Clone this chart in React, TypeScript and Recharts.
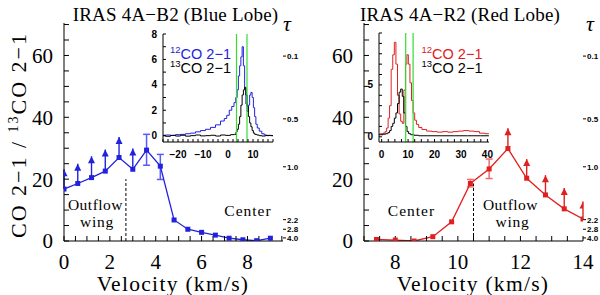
import React from 'react';
import { ComposedChart, LineChart, Line, Scatter, XAxis, YAxis, ErrorBar, ReferenceLine } from 'recharts';

// IRAS 4A-B2 (blue lobe): 12CO/13CO 2-1 ratio per velocity channel
const blueVel = [0, 0.6, 1.2, 1.8, 2.4, 3.0, 3.6, 4.2, 4.8, 5.4, 6.0, 6.6, 7.2, 7.8, 8.4, 9.0];
const blueRatio = [16.8, 18.6, 20.5, 22.6, 27.0, 23.2, 29.4, 24.2, 6.8, 3.8, 2.8, 1.9, 0.9, 0.4, 0.1, 0.9];
const blueLimVel = [0, 0.6, 1.2, 1.8, 2.4, 3.0]; // lower limits (arrows)
const blueLimTip = [23.2, 25.0, 27.4, 29.6, 33.6, 29.9];
const blueErrVel = [3.6, 4.2];
const blueErrLow = [24.5, 19.9];
const blueErrHigh = [34.5, 28.0];
const blueSplit = [2.7, 20]; // dashed line: velocity, top

// IRAS 4A-R2 (red lobe)
const redVel = [7.4, 8.0, 8.6, 9.2, 9.8, 10.4, 11.0, 11.6, 12.2, 12.8, 13.4, 14.0];
const redRatio = [0.5, 0.3, 0.0, 1.4, 6.2, 18.6, 23.3, 29.9, 20.3, 14.9, 10.4, 7.1];
const redLimVel = [11.6, 12.2, 12.8, 13.4, 14.0];
const redLimTip = [36.5, 26.5, 21.3, 17.1, 12.8];
const redErrVel = [10.4, 11.0];
const redErrLow = [17.5, 20.2];
const redErrHigh = [19.9, 26.5];
const redSplit = [10.5, 18.6];

// optical depth scale on the right axis (ratio position -> tau)
const tauPos = [59.8, 39.5, 24, 6.9, 3.8, 1.0];
const tauLabels = ['0.1', '0.5', '1.0', '2.2', '2.8', '4.0'];

// inset spectra, blue lobe (v in km/s, T in K)
const b12Vel = [-26, -24, -22, -20, -18, -16, -14, -12, -10, -8, -6, -4, -2, -1, 0, 1, 2, 2.8, 3.4, 3.9, 4.4, 4.9, 5.4, 5.9, 6.4, 6.9, 7.4, 7.9, 8.4, 8.9, 9.4, 9.9, 10.4, 10.9, 11.4, 12, 13, 14, 15, 16, 17, 18];
const b12T = [0.03, 0.05, 0.02, 0.08, 0.1, 0.15, 0.2, 0.3, 0.4, 0.5, 0.65, 0.85, 1.15, 1.35, 1.6, 2.0, 2.3, 2.6, 3.0, 3.6, 4.7, 5.5, 6.2, 7.0, 5.5, 3.7, 2.5, 1.9, 2.4, 3.2, 3.4, 3.0, 2.2, 1.5, 0.9, 0.6, 0.35, 0.15, 0.05, 0.0, 0.02, 0.0];
const b13Vel = [-26, -24, -22, -20, -18, -16, -14, -12, -10, -8, -6, -4, -2, 0, 2, 3, 3.4, 3.9, 4.4, 4.9, 5.4, 5.9, 6.4, 6.9, 7.4, 7.9, 8.4, 8.9, 9.4, 9.9, 10.4, 11, 12, 13, 14, 16, 18];
const b13T = [0.0, -0.05, 0.02, -0.03, 0.03, -0.04, 0.0, 0.05, -0.02, 0.0, 0.03, -0.03, 0.05, 0.02, 0.08, 0.1, 0.3, 0.5, 0.9, 1.5, 2.4, 3.2, 3.6, 3.8, 3.2, 2.3, 1.5, 1.0, 0.7, 0.4, 0.2, 0.1, 0.05, 0.0, -0.03, 0.02, 0.0];
const blueGreen = [3.4, 7.6];

// inset spectra, red lobe
const r12Vel = [-1, 0, 1, 1.6, 2.2, 2.7, 3.3, 3.9, 4.5, 5.1, 5.7, 6.3, 6.9, 7.5, 8.1, 8.7, 9.3, 9.8, 10.4, 11.0, 11.6, 12.2, 12.8, 13.5, 14.5, 16, 18, 20, 22, 24, 26, 28, 30, 32, 34, 36, 38, 40, 41];
const r12T = [0.25, 0.3, 0.35, 0.5, 0.85, 1.8, 3.0, 6.5, 7.9, 9.1, 7.0, 4.0, 2.2, 1.5, 1.3, 4.5, 7.0, 7.9, 7.0, 5.2, 3.5, 2.3, 1.6, 1.2, 0.9, 0.7, 0.55, 0.5, 0.45, 0.5, 0.45, 0.5, 0.55, 0.6, 0.55, 0.5, 0.35, 0.3, 0.3];
const r13Vel = [-1, 0, 1, 2, 2.7, 3.3, 3.9, 4.5, 5.1, 5.7, 6.3, 6.9, 7.5, 8.1, 8.7, 9.3, 9.9, 10.5, 11.5, 13, 15, 20, 25, 30, 35, 40, 41];
const r13T = [0.2, 0.2, 0.25, 0.3, 0.4, 0.6, 1.0, 1.3, 1.8, 2.3, 3.2, 4.3, 4.6, 3.9, 2.3, 1.0, 0.5, 0.3, 0.2, 0.15, 0.1, 0.1, 0.1, 0.1, 0.1, 0.1, 0.1];
const redGreen = [9.1, 11.9];

// only Liberation Serif resolves to a real serif face here
const serif = 'Liberation Serif';
const sans = 'Liberation Sans';
const BLUE = '#2222dd';
const BLUE_ERR = '#5a5aff';
const RED = '#e02020';
const RED_ERR = '#f06a6a';
const GREEN = '#33dd33';

const ratioTicks = [0, 5, 10, 15, 20, 25, 30, 35, 40, 45, 50, 55, 60, 65, 70];
const blueXTicks = [0, 0.5, 1, 1.5, 2, 2.5, 3, 3.5, 4, 4.5, 5, 5.5, 6, 6.5, 7, 7.5, 8, 8.5, 9, 9.5];
const redXTicks = [7, 7.5, 8, 8.5, 9, 9.5, 10, 10.5, 11, 11.5, 12, 12.5, 13, 13.5, 14];

const zip = (xs: number[], ys: number[]) => xs.map((v, i) => ({ v, t: ys[i] }));

const squareDot = (color: string) => (p: any) =>
  <rect key={`sq${p.index}`} x={p.cx - 2.5} y={p.cy - 2.5} width={5} height={5} fill={color} />;
const arrowHead = (color: string) => (p: any) =>
  <polygon points={`${p.cx},${p.cy} ${p.cx - 3.5},${p.cy + 7} ${p.cx + 3.5},${p.cy + 7}`} fill={color} />;
const nothing = () => <g />;

// tick label renderer with an explicit font
const mkTick = (fmt: (v: number) => string, family: string, size: number, dy: string, weight = 'normal') => (p: any) => (
  <text x={p.x} y={p.y} dy={dy} textAnchor={p.textAnchor} fill="#000"
    style={{ fontFamily: family, fontSize: size, fontWeight: weight }}>{fmt(p.payload.value)}</text>
);
const blank = () => '';

function RatioPanel({ vel, ratio, limVel, limTip, errVel, errLow, errHigh, split, color, errColor, xDomain, xTicks }: any) {
  const line = vel.map((v: number, i: number) => ({ v, r: ratio[i] }));
  const lims = limVel.map((v: number, i: number) => {
    const r = ratio[vel.indexOf(v)];
    return { v, r, lim: [0, limTip[i] - r], tip: limTip[i] };
  });
  const errs = errVel.map((v: number, i: number) => {
    const r = ratio[vel.indexOf(v)];
    return { v, r, e: [r - errLow[i], errHigh[i] - r] };
  });
  const fx = (v: number) => (Number.isInteger(v) && v % 2 === 0 ? String(v) : '');
  const fy = (v: number) => (v % 20 === 0 ? String(v) : '');
  const ftau = (v: number) => tauLabels[tauPos.indexOf(v)] ?? '';
  return (
    <ComposedChart width={300} height={295} margin={{ top: 23, right: 0, bottom: 0, left: 0 }}>
      <XAxis dataKey="v" type="number" domain={xDomain} allowDataOverflow ticks={xTicks} interval={0}
        height={54} tickSize={-5} tickMargin={18} stroke="#000" tick={mkTick(fx, serif, 21, '0.71em')} />
      <XAxis xAxisId="top" orientation="top" dataKey="v" type="number" domain={xDomain} allowDataOverflow
        ticks={xTicks} interval={0} tick={mkTick(blank, serif, 10, '0')} height={0} tickSize={-5} stroke="#000" />
      <YAxis type="number" domain={[0, 70.5]} allowDataOverflow ticks={ratioTicks} interval={0}
        width={64} tickSize={-5} tickMargin={16} stroke="#000" tick={mkTick(fy, serif, 21, '0.355em')} />
      <YAxis yAxisId="r2" orientation="right" type="number" domain={[0, 70.5]} allowDataOverflow
        ticks={ratioTicks} interval={0} tick={mkTick(blank, serif, 10, '0')} width={0} tickSize={-5} stroke="#000" />
      <YAxis yAxisId="tau" orientation="right" type="number" domain={[0, 70.5]} allowDataOverflow
        ticks={tauPos} interval={0} width={17} tickSize={3} tickMargin={1} axisLine={false} stroke="#000"
        tick={mkTick(ftau, sans, 8, '0.355em', 'bold')} />
      <ReferenceLine segment={[{ x: split[0], y: 0 }, { x: split[0], y: split[1] }]} stroke="#000" strokeDasharray="3 2" />
      <Scatter data={lims} dataKey="r" shape={nothing} isAnimationActive={false}>
        <ErrorBar dataKey="lim" direction="y" width={0} stroke={color} strokeWidth={1.4} />
      </Scatter>
      <Scatter data={lims} dataKey="tip" shape={arrowHead(color)} isAnimationActive={false} />
      <Scatter data={errs} dataKey="r" shape={nothing} isAnimationActive={false}>
        <ErrorBar dataKey="e" direction="y" width={3.5} stroke={errColor} strokeWidth={1.5} />
      </Scatter>
      <Line data={line} dataKey="r" stroke={color} strokeWidth={1.3} dot={squareDot(color)} isAnimationActive={false} />
    </ComposedChart>
  );
}

function Inset({ s12, s13, c12, xDomain, xTicks, yDomain, yTicks, yLabels, green, height }: any) {
  const fx = (v: number) => (v % 10 === 0 ? (v < 0 ? '\u2212' + Math.abs(v) : String(v)) : '');
  const fy = (v: number) => (yLabels.includes(v) ? String(v) : '');
  return (
    <LineChart width={140} height={height} margin={{ top: 8, right: 7, bottom: 0, left: 0 }}>
      <XAxis dataKey="v" type="number" domain={xDomain} allowDataOverflow ticks={xTicks} interval={0}
        height={24} tickSize={-3} tickMargin={12} stroke="#000" tick={mkTick(fx, sans, 10, '0.71em', 'bold')} />
      <XAxis xAxisId="top" orientation="top" dataKey="v" type="number" domain={xDomain} allowDataOverflow
        ticks={xTicks} interval={0} tick={mkTick(blank, sans, 10, '0')} height={0} tickSize={-3} stroke="#000" />
      <YAxis type="number" domain={yDomain} allowDataOverflow ticks={yTicks} interval={0}
        width={23} tickSize={-3} tickMargin={9} stroke="#000" tick={mkTick(fy, sans, 10, '0.355em', 'bold')} />
      <YAxis yAxisId="r2" orientation="right" type="number" domain={yDomain} allowDataOverflow
        ticks={yTicks} interval={0} tick={mkTick(blank, sans, 10, '0')} width={0} tickSize={-3} stroke="#000" />
      <Line data={s12} type="step" dataKey="t" stroke={c12} strokeWidth={1} dot={false} isAnimationActive={false} />
      <Line data={s13} type="step" dataKey="t" stroke="#000" strokeWidth={1} dot={false} isAnimationActive={false} />
      {green.map((g: number) => <ReferenceLine key={g} x={g} stroke={GREEN} strokeWidth={1.2} />)}
    </LineChart>
  );
}

export default function App() {
  const abs = (left: number, top: number): React.CSSProperties => ({ position: 'absolute', left, top });
  const legend = (x: number, y: number, iso: string, fill: string) => (
    <text x={x} y={y} fill={fill}>
      <tspan fontSize={9.5} dy={-6}>{iso}</tspan><tspan dy={6}>CO 2{'\u2212'}1</tspan>
    </text>
  );
  return (
    <div style={{ position: 'absolute', left: 0, top: 0, width: 600, height: 295, background: '#fff', overflow: 'hidden', fontFamily: serif }}>
      <div style={abs(0, 0)}>
        <RatioPanel vel={blueVel} ratio={blueRatio} limVel={blueLimVel} limTip={blueLimTip}
          errVel={blueErrVel} errLow={blueErrLow} errHigh={blueErrHigh} split={blueSplit}
          color={BLUE} errColor={BLUE_ERR} xDomain={[0, 9.55]} xTicks={blueXTicks} />
      </div>
      <div style={abs(300, 0)}>
        <RatioPanel vel={redVel} ratio={redRatio} limVel={redLimVel} limTip={redLimTip}
          errVel={redErrVel} errLow={redErrLow} errHigh={redErrHigh} split={redSplit}
          color={RED} errColor={RED_ERR} xDomain={[7, 14]} xTicks={redXTicks} />
      </div>
      <div style={abs(140, 26)}>
        <Inset s12={zip(b12Vel, b12T)} s13={zip(b13Vel, b13T)} c12={BLUE} xDomain={[-26, 18]}
          xTicks={[-26, -24, -22, -20, -18, -16, -14, -12, -10, -8, -6, -4, -2, 0, 2, 4, 6, 8, 10, 12, 14, 16, 18]}
          yDomain={[-0.5, 8]} yTicks={[0, 1, 2, 3, 4, 5, 6, 7, 8]} yLabels={[0, 2, 4, 6, 8]} green={blueGreen} height={140} />
      </div>
      <div style={abs(356, 25)}>
        <Inset s12={zip(r12Vel, r12T)} s13={zip(r13Vel, r13T)} c12={RED} xDomain={[-1, 40.6]}
          xTicks={[0, 2.5, 5, 7.5, 10, 12.5, 15, 17.5, 20, 22.5, 25, 27.5, 30, 32.5, 35, 37.5, 40]}
          yDomain={[-0.5, 10]} yTicks={[0, 1, 2, 3, 4, 5, 6, 7, 8, 9, 10]} yLabels={[0, 5]} green={redGreen} height={141} />
      </div>
      <svg width={600} height={295} style={{ position: 'absolute', left: 0, top: 0, pointerEvents: 'none' }}>
        <g fontFamily={serif} fill="#000">
          <text x={175.5} y={21} fontSize={19} textAnchor="middle" letterSpacing={0.2}>IRAS 4A{'\u2212'}B2 (Blue Lobe)</text>
          <text x={460} y={21} fontSize={19} textAnchor="middle" letterSpacing={0.2}>IRAS 4A{'\u2212'}R2 (Red Lobe)</text>
          <text x={283} y={31} fontSize={22} fontStyle="italic">τ</text>
          <text x={586} y={31} fontSize={22} fontStyle="italic">τ</text>
          <text transform="translate(25.5,135) rotate(-90)" fontSize={22} textAnchor="middle" letterSpacing={2}>
            CO 2{'\u2212'}1 / <tspan fontSize={14} dy={-8}>13</tspan><tspan dy={8}>CO 2{'\u2212'}1</tspan>
          </text>
          <text x={173} y={290.5} fontSize={21.5} textAnchor="middle" letterSpacing={1.3}>Velocity (km/s)</text>
          <text x={473} y={290.5} fontSize={21.5} textAnchor="middle" letterSpacing={1.3}>Velocity (km/s)</text>
          <g fontSize={15.5} textAnchor="middle">
            <text x={95.5} y={209.5} letterSpacing={0.5}>Outflow</text>
            <text x={97} y={226.5} letterSpacing={0.8}>wing</text>
            <text x={248} y={215.5} letterSpacing={1}>Center</text>
            <text x={411.5} y={215.5} letterSpacing={1}>Center</text>
            <text x={510.5} y={209.5} letterSpacing={0.5}>Outflow</text>
            <text x={512.5} y={226.5} letterSpacing={0.8}>wing</text>
          </g>
        </g>
        <g fontFamily={sans} fontSize={14.5}>
          {legend(170, 58.5, '12', BLUE)}
          {legend(170, 72.5, '13', '#000')}
          {legend(421.5, 58.5, '12', RED)}
          {legend(421.5, 73, '13', '#000')}
        </g>
      </svg>
    </div>
  );
}
